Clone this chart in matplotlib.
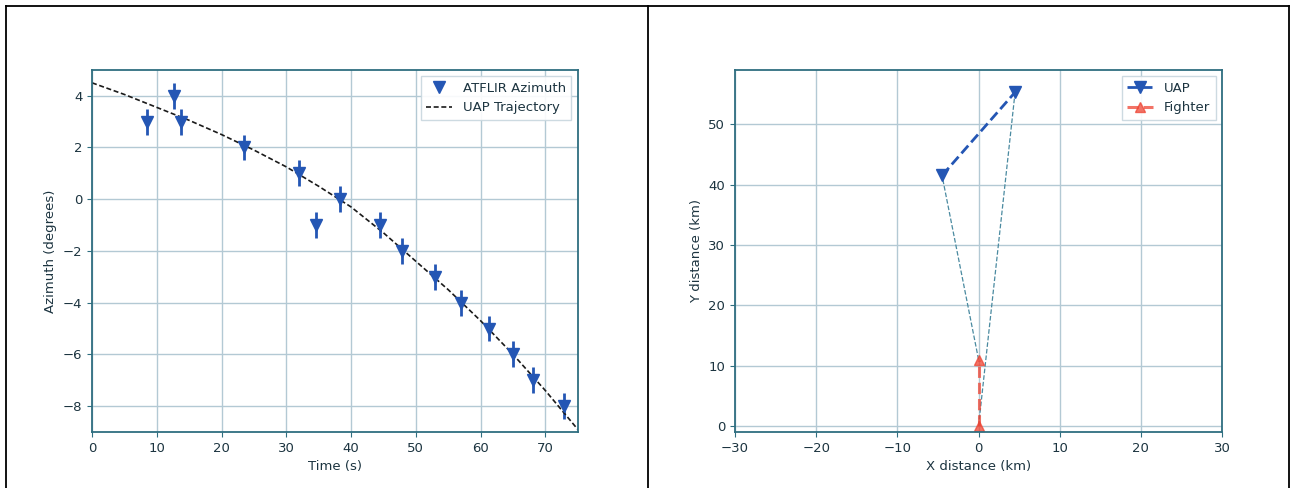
import matplotlib
matplotlib.use("Agg")
import matplotlib.pyplot as plt
from matplotlib.lines import Line2D

# ---- data (left panel) ----
atflir_time = [8.5, 12.7, 13.7, 23.4, 32.0, 34.6, 38.3, 44.4, 47.8, 53.0, 57.0, 61.3, 65.0, 68.1, 72.8]
atflir_az = [3, 4, 3, 2, 1, -1, 0, -1, -2, -3, -4, -5, -6, -7, -8]
atflir_err = 0.5
traj_time = [0, 5, 10, 15, 20, 25, 30, 35, 40, 45, 50, 55, 60, 65, 70, 75]
traj_az = [4.5, 4.05, 3.55, 3.05, 2.5, 1.9, 1.25, 0.5, -0.3, -1.3, -2.4, -3.5, -4.7, -6.0, -7.4, -8.9]

# ---- data (right panel) ----
uap_x = [-4.5, 4.5]
uap_y = [41.5, 55.3]
fighter_x = [0.0, 0.0]
fighter_y = [0.0, 11.0]

spine_c = '#2f6e80'
grid_c = '#b3c9d4'
text_c = '#1c3440'
blue = '#2456b4'
red = '#ee4433'

plt.rcParams['font.family'] = 'DejaVu Sans'
plt.rcParams['font.size'] = 9.5
plt.rcParams['text.color'] = text_c
plt.rcParams['axes.labelcolor'] = text_c
plt.rcParams['xtick.color'] = text_c
plt.rcParams['ytick.color'] = text_c

fig = plt.figure(figsize=(12.92, 4.88), dpi=100)

ax1 = fig.add_axes([0.0712, 0.1148, 0.376, 0.742])
ax2 = fig.add_axes([0.5689, 0.1148, 0.377, 0.742])

for ax in (ax1, ax2):
    for s in ax.spines.values():
        s.set_color(spine_c)
        s.set_linewidth(1.3)
    ax.grid(True, color=grid_c, linewidth=1.0)
    ax.set_axisbelow(True)
    ax.tick_params(color=spine_c, labelsize=9.5)

# left panel
ax1.errorbar(atflir_time, atflir_az, yerr=atflir_err, fmt='v', color=blue,
             ecolor=blue, elinewidth=2, markersize=8, capsize=0)
ax1.plot(traj_time, traj_az, color='#1a1a1a', linewidth=1.2, linestyle=(0, (3, 1.6)))
ax1.set_xlim(0, 75)
ax1.set_ylim(-9, 5)
ax1.set_xticks([0, 10, 20, 30, 40, 50, 60, 70])
ax1.set_yticks([-8, -6, -4, -2, 0, 2, 4])
ax1.set_yticklabels(['\u22128', '\u22126', '\u22124', '\u22122', '0', '2', '4'])
ax1.set_xlabel('Time (s)')
ax1.set_ylabel('Azimuth (degrees)')
h1 = [Line2D([], [], marker='v', linestyle='none', color=blue, markersize=8),
      Line2D([], [], color='#1a1a1a', linewidth=1.2, linestyle=(0, (3, 1.6)))]
leg1 = ax1.legend(h1, ['ATFLIR Azimuth', 'UAP Trajectory'], loc='upper right',
                  fontsize=9.5, fancybox=False, framealpha=0.9)
leg1.get_frame().set_edgecolor('#c8d6de')

# right panel: lines of sight
ax2.plot([fighter_x[1], uap_x[0]], [fighter_y[1], uap_y[0]], '--', color='#4a8aa0', linewidth=0.9)
ax2.plot([fighter_x[0], uap_x[1]], [fighter_y[0], uap_y[1]], '--', color='#4a8aa0', linewidth=0.9)
ax2.plot(uap_x, uap_y, '--v', color=blue, linewidth=2, markersize=8, label='UAP')
ax2.plot(fighter_x, fighter_y, '--^', color=red, alpha=0.75, linewidth=2.2, markersize=7, label='Fighter')
ax2.set_xlim(-30, 30)
ax2.set_ylim(-1, 59)
ax2.set_xticks([-30, -20, -10, 0, 10, 20, 30])
ax2.set_xticklabels(['\u221230', '\u221220', '\u221210', '0', '10', '20', '30'])
ax2.set_yticks([0, 10, 20, 30, 40, 50])
ax2.set_xlabel('X distance (km)')
ax2.set_ylabel('Y distance (km)')
leg2 = ax2.legend(loc='upper right', fontsize=9.5, fancybox=False, framealpha=0.9)
leg2.get_frame().set_edgecolor('#c8d6de')

# outer frame lines (table borders)
W, H = 1292.0, 488.0
def fl(x0, y0, x1, y1):
    fig.add_artist(Line2D([x0 / W, x1 / W], [1 - y0 / H, 1 - y1 / H], color='black', linewidth=1.3))
fl(6, 6, 1289, 6)
fl(6, 6, 6, 488)
fl(648, 6, 648, 488)
fl(1289, 6, 1289, 488)

fig.savefig('out.png', dpi=100)
